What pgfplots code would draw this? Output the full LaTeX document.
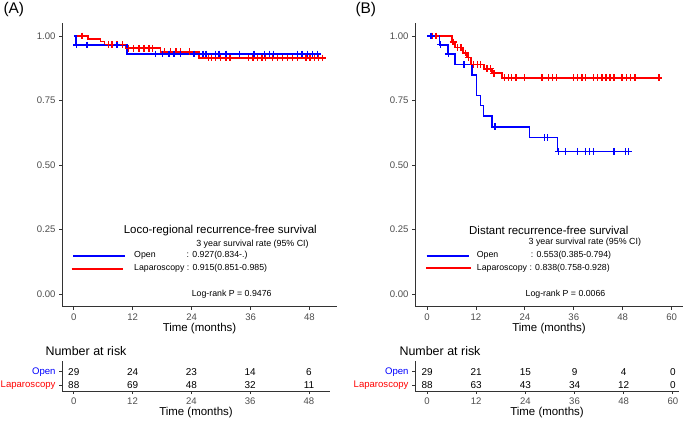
\documentclass[border=0pt]{standalone}
\usepackage{fontspec}
\setmainfont{Liberation Sans}
\usepackage{pgfplots}
\pgfplotsset{compat=1.18}
\definecolor{tickgray}{HTML}{4D4D4D}
\definecolor{axgray}{HTML}{333333}
\definecolor{kmblue}{HTML}{0000FF}
\definecolor{kmred}{HTML}{FF0000}

\pgfplotsset{
  kmbase/.style={
    scale only axis,
    axis x line=bottom, axis y line=left,
    axis line style={-, line width=0.8bp, draw=axgray},
    tick align=outside, major tick length=3bp,
    tick style={line width=0.8bp, draw=axgray},
    /pgf/number format/assume math mode=true,
    ticklabel style={font=\fontsize{9.6}{11}\selectfont, text=tickgray},
    xlabel style={at={(axis description cs:0.5,0)}, anchor=center, font=\fontsize{11.5}{13}\selectfont},
  },
  kmmain/.style={
    kmbase,
    ymin=-0.05, ymax=1.05, height=283.7bp,
    ytick={0,0.25,0.5,0.75,1},
    yticklabels={0.00,0.25,0.50,0.75,1.00},
    xlabel={Time (months)},
    xlabel style={yshift=-22bp},
  },
  kmrisk/.style={
    kmbase,
    ymin=0.55, ymax=2.8, height=30bp,
    ytick={1,2},
    yticklabels={\textcolor{kmred}{Laparoscopy},\textcolor{kmblue}{Open}},
    yticklabel style={font=\fontsize{9.6}{11}\selectfont},
    xlabel={Time (months)},
    xlabel style={yshift=-22bp},
  },
  kmline/.style={const plot, line width=1.5bp, mark=none, draw=#1},
  cens/.style={only marks, mark=+, mark size=3.4bp, mark options={draw=#1, line width=1.3bp}},
  risknum/.style={draw=none, mark=none, nodes near coords, point meta=explicit symbolic,
    every node near coord/.append style={anchor=center, font=\fontsize{10}{12}\selectfont, text=black}},
}

\begin{document}
\begin{tikzpicture}
\path[use as bounding box] (0,0) rectangle (685bp,422bp);

% ---------------- Panel A main ----------------
\begin{axis}[kmmain, at={(62bp,115.15bp)}, anchor=south west,
  width=275bp, xmin=-2.4, xmax=53.6,
  xtick={0,12,24,36,48}, xticklabels={0,12,24,36,48}]
% Laparoscopy
\addplot[kmline=kmred] coordinates {(0,1.0) (2.9,0.989) (5.4,0.978) (6.3,0.966) (10.5,0.953) (17.7,0.939) (25.5,0.915) (51,0.915)};
% Open
\addplot[kmline=kmblue] coordinates {(0,1.0) (0.5,0.9655) (10.8,0.930) (50,0.930)};
% censoring Laparoscopy
\addplot[cens=kmred] coordinates {(1.7,1.0)
 (7.1,0.966) (7.8,0.966) (8.8,0.966) (9.9,0.966)
 (11.2,0.953) (12.2,0.953) (13.3,0.953) (14.3,0.953) (15.3,0.953) (16.0,0.953)
 (18.5,0.939) (19.7,0.939) (20.8,0.939) (21.8,0.939) (23.6,0.939)
 (27.4,0.915) (28.1,0.915) (28.9,0.915) (29.9,0.915) (31.0,0.915) (31.8,0.915)
 (35.6,0.915) (36.5,0.915) (37.4,0.915) (38.3,0.915) (39.1,0.915)
 (40.5,0.915) (41.5,0.915) (42.5,0.915) (43.5,0.915) (44.6,0.915) (45.6,0.915)
 (47.3,0.915) (48.1,0.915) (49.0,0.915) (49.8,0.915) (50.7,0.915)};
% censoring Open
\addplot[cens=kmblue] coordinates {(0.6,0.9655) (2.7,0.9655) (8.8,0.9655)
 (16.7,0.930) (18.0,0.930) (19.4,0.930) (20.4,0.930) (21.8,0.930) (24.5,0.930)
 (26.3,0.930) (26.9,0.930) (28.9,0.930) (29.6,0.930) (31.0,0.930) (33.7,0.930)
 (36.7,0.930) (38.8,0.930) (39.9,0.930) (40.6,0.930)
 (45.5,0.930) (46.5,0.930) (47.6,0.930) (48.6,0.930) (49.6,0.930)};
\end{axis}

% ---------------- Panel B main ----------------
\begin{axis}[kmmain, at={(415bp,115.15bp)}, anchor=south west,
  width=268bp, xmin=-2.95, xmax=62.8,
  xtick={0,12,24,36,48,60}, xticklabels={0,12,24,36,48,60}]
\addplot[kmline=kmred] coordinates {(0,1.0) (6.1,0.977) (6.9,0.955) (8.8,0.934) (9.8,0.916) (10.8,0.890) (14.0,0.873) (15.9,0.856) (18.4,0.838) (57.6,0.838)};
\addplot[kmline=kmblue] coordinates {(0,1.0) (3.1,0.966) (5.1,0.930) (6.9,0.890) (11.0,0.849) (12.1,0.770) (13.1,0.731) (13.9,0.690) (15.9,0.648) (25.1,0.607) (32.0,0.553) (50.4,0.553)};
\addplot[cens=kmred] coordinates {(1.4,1.0) (2.2,1.0)
 (6.4,0.977) (7.5,0.955) (8.3,0.955) (9.4,0.934) (10.1,0.916)
 (11.4,0.890) (12.4,0.890) (13.2,0.890) (14.7,0.873) (15.5,0.873) (16.4,0.856)
 (19.0,0.838) (20.0,0.838) (20.8,0.838) (21.8,0.838) (23.9,0.838)
 (28.2,0.838) (29.8,0.838) (30.7,0.838) (31.8,0.838)
 (35.9,0.838) (36.9,0.838) (38.0,0.838) (38.9,0.838)
 (40.8,0.838) (41.8,0.838) (42.9,0.838) (43.9,0.838) (44.9,0.838) (45.9,0.838)
 (47.8,0.838) (49.0,0.838) (50.0,0.838) (51.0,0.838) (56.9,0.838)};
\addplot[cens=kmblue] coordinates {(1.0,1.0) (3.3,0.966) (5.3,0.930) (9.1,0.890)
 (16.7,0.648) (28.8,0.607) (29.6,0.607)
 (32.2,0.553) (34.0,0.553) (36.9,0.553) (38.9,0.553) (39.8,0.553) (40.8,0.553)
 (45.9,0.553) (48.7,0.553) (49.5,0.553)};
\end{axis}

% ---------------- Risk table A ----------------
\begin{axis}[kmrisk, at={(62bp,31bp)}, anchor=south west,
  width=268bp, xmin=-2.4, xmax=52.3,
  xtick={0,12,24,36,48}, xticklabels={0,12,24,36,48}]
\addplot[risknum] coordinates {(0,2)[29] (12,2)[24] (24,2)[23] (36,2)[14] (48,2)[6]};
\addplot[risknum] coordinates {(0,1)[88] (12,1)[69] (24,1)[48] (36,1)[32] (48,1)[11]};
\end{axis}

% ---------------- Risk table B ----------------
\begin{axis}[kmrisk, at={(415bp,31bp)}, anchor=south west,
  width=264bp, xmin=-2.95, xmax=61.5,
  xtick={0,12,24,36,48,60}, xticklabels={0,12,24,36,48,60}]
\addplot[risknum] coordinates {(0,2)[29] (12,2)[21] (24,2)[15] (36,2)[9] (48,2)[4] (60,2)[0]};
\addplot[risknum] coordinates {(0,1)[88] (12,1)[63] (24,1)[43] (36,1)[34] (48,1)[12] (60,1)[0]};
\end{axis}

% ---------------- Panel labels and annotations ----------------
\node[anchor=west, font=\fontsize{15.5}{17}\selectfont] at (0bp,412.5bp) {(A)};
\node[anchor=west, font=\fontsize{15.5}{17}\selectfont] at (352bp,412.5bp) {(B)};

\node[anchor=west, font=\fontsize{12.5}{14}\selectfont] at (42bp,71.3bp) {Number at risk};
\node[anchor=west, font=\fontsize{12.5}{14}\selectfont] at (396bp,71.3bp) {Number at risk};

% legend A
\node[font=\fontsize{11.5}{13}\selectfont] at (220.3bp,191.3bp) {Loco-regional recurrence-free survival};
\node[font=\fontsize{8.9}{10}\selectfont] at (252.5bp,178bp) {3 year survival rate (95\% CI)};
\draw[draw=kmblue, line width=1.8bp] (73.3bp,166.3bp) -- (125bp,166.3bp);
\draw[draw=kmred, line width=1.8bp] (71.7bp,153.3bp) -- (123.3bp,153.3bp);
\node[anchor=west, inner sep=0pt, font=\fontsize{8.8}{10}\selectfont] at (134bp,166.3bp) {Open};
\node[anchor=west, inner sep=0pt, font=\fontsize{8.8}{10}\selectfont] at (186.5bp,166.3bp) {: 0.927(0.834-.)};
\node[anchor=west, inner sep=0pt, font=\fontsize{8.8}{10}\selectfont] at (134bp,153.3bp) {Laparoscopy : 0.915(0.851-0.985)};
\node[font=\fontsize{8.8}{10}\selectfont] at (231.7bp,128bp) {Log-rank P = 0.9476};

% legend B
\node[font=\fontsize{11.5}{13}\selectfont] at (548.8bp,192bp) {Distant recurrence-free survival};
\node[font=\fontsize{8.9}{10}\selectfont] at (584.8bp,179.3bp) {3 year survival rate (95\% CI)};
\draw[draw=kmblue, line width=1.8bp] (426.7bp,166.3bp) -- (469.3bp,166.3bp);
\draw[draw=kmred, line width=1.8bp] (426bp,153.7bp) -- (470.7bp,153.7bp);
\node[anchor=west, inner sep=0pt, font=\fontsize{8.8}{10}\selectfont] at (476.7bp,166.3bp) {Open};
\node[anchor=west, inner sep=0pt, font=\fontsize{8.8}{10}\selectfont] at (530.7bp,166.3bp) {: 0.553(0.385-0.794)};
\node[anchor=west, inner sep=0pt, font=\fontsize{8.8}{10}\selectfont] at (476.7bp,153.7bp) {Laparoscopy : 0.838(0.758-0.928)};
\node[font=\fontsize{8.8}{10}\selectfont] at (565.5bp,127.7bp) {Log-rank P = 0.0066};

\end{tikzpicture}
\end{document}
